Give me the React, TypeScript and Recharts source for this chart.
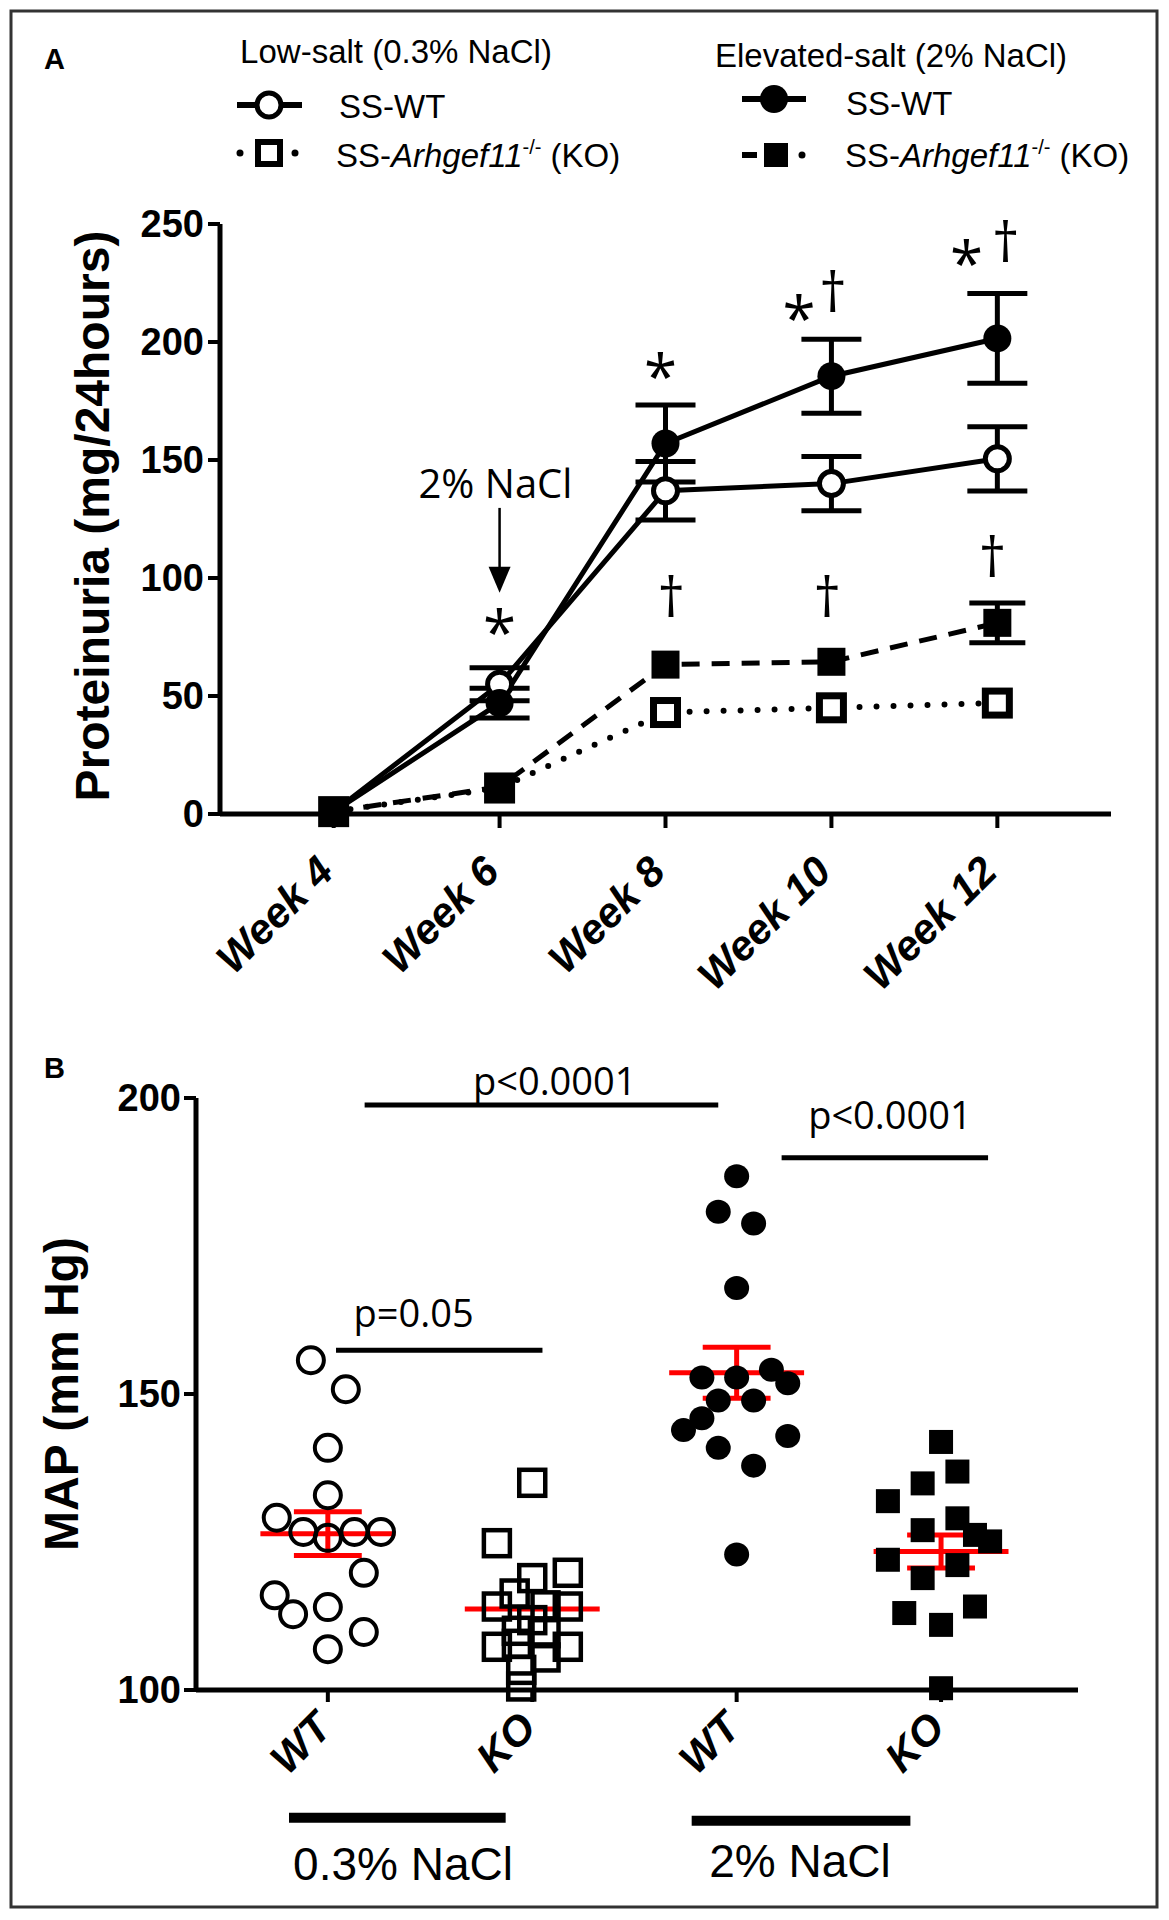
import React from 'react';
import {
  ComposedChart,
  Line,
  XAxis,
  YAxis,
  ErrorBar,
  ReferenceLine,
  ReferenceDot,
  ScatterChart,
  Scatter,
} from 'recharts';

// ---------- Panel A data ----------
const weeks = [4, 6, 8, 10, 12];
const weekLabels = ['Week 4', 'Week 6', 'Week 8', 'Week 10', 'Week 12'];
const lowWT = [1, 55, 137, 140, 150.5];
const lowWTErr = [null, 7, 12.4, 11.5, 13.6];
const highWT = [1, 47, 157, 185.5, 201.5];
const highWTErr = [null, 6.3, 16.3, 15.7, 19];
const lowKO = [1, 11, 43, 45, 47];
const highKO = [1, 11.5, 63.3, 64.5, 81];
const highKOErr = [null, null, null, null, 8.4];
const yTicksA = [0, 50, 100, 150, 200, 250];

// significance marks on panel A (week, value at glyph centre, glyph)
const marksA = [
  { x: 6, y: 83, t: '*' },
  { x: 7.94, y: 191.6, t: '*' },
  { x: 9.61, y: 216.2, t: '*' },
  { x: 10.02, y: 219.7, t: '†' },
  { x: 11.63, y: 239.4, t: '*' },
  { x: 12.1, y: 240.8, t: '†' },
  { x: 8.07, y: 90.5, t: '†' },
  { x: 9.95, y: 90.5, t: '†' },
  { x: 11.94, y: 107.2, t: '†' },
];

// ---------- Panel B data ----------
const groupLabels = ['WT', 'KO', 'WT', 'KO'];
const wtLowVals = [155.7, 150.8, 140.9, 132.9, 129.1, 126.7, 125.7, 126.7, 126.7, 119.8, 116.0, 112.8, 114.0, 109.8, 106.9];
const wtLowJit = [-0.083, 0.088, 0, 0, -0.25, -0.12, 0, 0.13, 0.26, 0.176, -0.26, -0.17, 0, 0.176, 0];
const koLowVals = [135.0, 124.8, 118.9, 119.8, 116.3, 114.1, 114.1, 114.3, 111.8, 110.0, 109.6, 107.3, 107.3, 107.8, 105.5, 103.4, 100.6];
const koLowJit = [0, -0.173, 0, 0.174, -0.086, -0.173, 0.174, 0.065, 0, -0.075, 0.065, -0.173, 0.174, -0.075, 0.065, -0.054, -0.054];
const wtHighVals = [186.8, 180.8, 178.8, 167.9, 152.8, 152.8, 154.1, 151.8, 148.9, 148.9, 145.9, 143.9, 142.9, 140.9, 137.9, 122.9];
const wtHighJit = [0, -0.09, 0.083, 0, -0.17, 0, 0.17, 0.25, -0.09, 0.083, -0.17, -0.26, 0.25, -0.09, 0.083, 0];
const koHighVals = [141.9, 136.9, 134.9, 131.9, 129.0, 127.0, 126.2, 125.1, 121.1, 122.0, 118.9, 114.1, 113.0, 111.0, 100.3];
const koHighJit = [0, 0.08, -0.09, -0.26, 0.08, -0.09, 0.166, 0.24, 0.08, -0.26, -0.09, 0.166, -0.18, 0, 0];
const meansB = [126.4, 113.7, 153.6, 123.4];
const semB = [3.7, 0, 4.3, 2.8];
const yTicksB = [100, 150, 200];

// significance bars on panel B
const sigBars = [
  { x1: 1.18, x2: 2.91, y: 198.8, lx: 2.11, ly: 202.9, label: 'p<0.0001' },
  { x1: 3.22, x2: 4.23, y: 189.9, lx: 3.75, ly: 197.0, label: 'p<0.0001' },
  { x1: 1.04, x2: 2.05, y: 157.4, lx: 1.42, ly: 163.7, label: 'p=0.05' },
];
// diet group bars under panel B
const dietBars = [
  { x1: 0.81, x2: 1.87, y: 78.4 },
  { x1: 2.78, x2: 3.85, y: 77.9 },
];

const FONT = '"Liberation Sans", Arial, Helvetica, sans-serif';
const ANN = '"Open Sans", "DejaVu Sans", sans-serif';

const dataA = weeks.map((w, i) => ({
  week: w,
  lowWT: lowWT[i],
  lowWTErr: lowWTErr[i],
  highWT: highWT[i],
  highWTErr: highWTErr[i],
  lowKO: lowKO[i],
  highKO: highKO[i],
  highKOErr: highKOErr[i],
}));

const mk = (vals: number[], jit: number[], g: number) => vals.map((v, i) => ({ x: g + jit[i], y: v }));
const ptsB = [mk(wtLowVals, wtLowJit, 1), mk(koLowVals, koLowJit, 2), mk(wtHighVals, wtHighJit, 3), mk(koHighVals, koHighJit, 4)];

function WeekTick(props: any) {
  const { x, y, payload } = props;
  const idx = weeks.indexOf(payload.value);
  return (
    <g transform={`translate(${x + 2},${y + 46})`}>
      <text textAnchor="end" transform="rotate(-45)" fontFamily={FONT} fontWeight="bold" fontStyle="italic" fontSize={42} fill="#000">
        {weekLabels[idx]}
      </text>
    </g>
  );
}

function GroupTick(props: any) {
  const { x, y, payload } = props;
  const idx = Math.round(payload.value) - 1;
  return (
    <g transform={`translate(${x + 6},${y + 28})`}>
      <text textAnchor="end" transform="rotate(-45)" fontFamily={FONT} fontWeight="bold" fontStyle="italic" fontSize={42} fill="#000">
        {groupLabels[idx]}
      </text>
    </g>
  );
}

const dotOpenCircle = (p: any) =>
  p.cx == null ? <g key={'oc' + p.index} /> : <circle key={'oc' + p.index} cx={p.cx} cy={p.cy} r={12} fill="#fff" stroke="#000" strokeWidth={5} />;
const dotFilledCircle = (p: any) =>
  p.cx == null ? <g key={'fc' + p.index} /> : <circle key={'fc' + p.index} cx={p.cx} cy={p.cy} r={14} fill="#000" />;
const dotOpenSquare = (p: any) =>
  p.cx == null ? <g key={'os' + p.index} /> : <rect key={'os' + p.index} x={p.cx - 12} y={p.cy - 12} width={24} height={24} fill="#fff" stroke="#000" strokeWidth={7} />;
const dotFilledSquare = (p: any) =>
  p.cx == null ? <g key={'fs' + p.index} /> : <rect key={'fs' + p.index} x={p.cx - 14} y={p.cy - 14} width={28} height={28} fill="#000" />;

const glyphShape = (t: string) => (p: any) => {
  const size = t === '*' ? 60 : 54;
  return (
    <text
      x={p.cx}
      y={p.cy + (t === '*' ? 0.6 : 0.3) * size}
      textAnchor="middle"
      fontFamily={ANN}
      fontSize={size}
      fill="#000"
    >
      {t}
    </text>
  );
};

const textShape = (t: string, size: number) => (p: any) => (
  <text x={p.cx} y={p.cy + 0.36 * size} textAnchor="middle" fontFamily={ANN} fontSize={size} fill="#000">
    {t}
  </text>
);

const triShape = (p: any) => (
  <path d={`M${p.cx - 11},${p.cy - 26} L${p.cx + 11},${p.cy - 26} L${p.cx},${p.cy} Z`} fill="#000" />
);

function PanelA() {
  return (
    <ComposedChart width={1169} height={1000} data={dataA} margin={{ top: 224, right: 58, bottom: 36, left: 100 }}>
      <XAxis
        type="number"
        dataKey="week"
        domain={[2.63, 13.37]}
        ticks={weeks}
        tick={<WeekTick />}
        tickSize={14}
        tickMargin={0}
        height={150}
        axisLine={{ stroke: '#000', strokeWidth: 5 }}
        tickLine={{ stroke: '#000', strokeWidth: 4 }}
        interval={0}
      />
      <YAxis
        type="number"
        domain={[0, 250]}
        ticks={yTicksA}
        width={120}
        tickSize={12}
        tickMargin={4}
        axisLine={{ stroke: '#000', strokeWidth: 5 }}
        tickLine={{ stroke: '#000', strokeWidth: 4 }}
        tick={{ fill: '#000', fontSize: 38, fontWeight: 'bold', fontFamily: FONT }}
        interval={0}
      />
      <Line
        dataKey="lowKO"
        stroke="#000"
        strokeWidth={6}
        strokeDasharray="0 17"
        strokeLinecap="round"
        dot={dotOpenSquare}
        activeDot={false}
        isAnimationActive={false}
        type="linear"
      />
      <Line
        dataKey="highKO"
        stroke="#000"
        strokeWidth={5}
        strokeDasharray="18 12"
        dot={dotFilledSquare}
        activeDot={false}
        isAnimationActive={false}
        type="linear"
      >
        <ErrorBar dataKey="highKOErr" width={28} strokeWidth={5} stroke="#000" direction="y" />
      </Line>
      <Line
        dataKey="lowWT"
        stroke="#000"
        strokeWidth={5}
        dot={dotOpenCircle}
        activeDot={false}
        isAnimationActive={false}
        type="linear"
      >
        <ErrorBar dataKey="lowWTErr" width={30} strokeWidth={5} stroke="#000" direction="y" />
      </Line>
      <Line
        dataKey="highWT"
        stroke="#000"
        strokeWidth={5}
        dot={dotFilledCircle}
        activeDot={false}
        isAnimationActive={false}
        type="linear"
      >
        <ErrorBar dataKey="highWTErr" width={30} strokeWidth={5} stroke="#000" direction="y" />
      </Line>
      <ReferenceLine segment={[{ x: 6, y: 129.7 }, { x: 6, y: 104 }]} stroke="#000" strokeWidth={2.5} ifOverflow="visible" />
      <ReferenceDot x={6} y={93.8} r={0} ifOverflow="visible" shape={triShape} />
      <ReferenceDot x={5.95} y={139.8} r={0} ifOverflow="visible" shape={textShape('2% NaCl', 40)} />
      {marksA.map((m, i) => (
        <ReferenceDot key={'mA' + i} x={m.x} y={m.y} r={0} ifOverflow="visible" shape={glyphShape(m.t)} />
      ))}
    </ComposedChart>
  );
}

const shapeOpenCircle = (p: any) => <circle cx={p.cx} cy={p.cy} r={13} fill="none" stroke="#000" strokeWidth={4} />;
const shapeOpenSquare = (p: any) => (
  <rect x={p.cx - 13} y={p.cy - 13} width={26} height={26} fill="none" stroke="#000" strokeWidth={4.5} />
);
const shapeFilledCircle = (p: any) => <ellipse cx={p.cx} cy={p.cy} rx={12.5} ry={12} fill="#000" />;
const shapeFilledSquare = (p: any) => <rect x={p.cx - 12} y={p.cy - 12} width={24} height={24} fill="#000" />;

function PanelB() {
  return (
    <ScatterChart width={1169} height={900} margin={{ top: 98, right: 91, bottom: 110, left: 96 }}>
      <XAxis
        type="number"
        dataKey="x"
        domain={[0.355, 4.67]}
        ticks={[1, 2, 3, 4]}
        tick={<GroupTick />}
        tickSize={12}
        tickMargin={0}
        height={100}
        axisLine={{ stroke: '#000', strokeWidth: 5 }}
        tickLine={{ stroke: '#000', strokeWidth: 4 }}
        interval={0}
        allowDataOverflow
      />
      <YAxis
        type="number"
        dataKey="y"
        domain={[100, 200]}
        ticks={yTicksB}
        width={100}
        tickSize={12}
        tickMargin={3}
        axisLine={{ stroke: '#000', strokeWidth: 5 }}
        tickLine={{ stroke: '#000', strokeWidth: 4 }}
        tick={{ fill: '#000', fontSize: 38, fontWeight: 'bold', fontFamily: FONT }}
        interval={0}
      />
      <Scatter data={ptsB[0]} shape={shapeOpenCircle} isAnimationActive={false} />
      <Scatter data={ptsB[1]} shape={shapeOpenSquare} isAnimationActive={false} />
      <Scatter data={ptsB[2]} shape={shapeFilledCircle} isAnimationActive={false} />
      <Scatter data={ptsB[3]} shape={shapeFilledSquare} isAnimationActive={false} />
      {meansB.map((m, i) => (
        <ReferenceLine key={'mean' + i} segment={[{ x: i + 1 - 0.33, y: m }, { x: i + 1 + 0.33, y: m }]} stroke="#ff0000" strokeWidth={5} ifOverflow="visible" />
      ))}
      {meansB.map((m, i) =>
        semB[i] > 0 ? (
          <ReferenceLine key={'semv' + i} segment={[{ x: i + 1, y: m - semB[i] }, { x: i + 1, y: m + semB[i] }]} stroke="#ff0000" strokeWidth={5} ifOverflow="visible" />
        ) : null
      )}
      {meansB.map((m, i) =>
        semB[i] > 0 ? (
          <ReferenceLine key={'semt' + i} segment={[{ x: i + 1 - 0.166, y: m + semB[i] }, { x: i + 1 + 0.166, y: m + semB[i] }]} stroke="#ff0000" strokeWidth={5} ifOverflow="visible" />
        ) : null
      )}
      {meansB.map((m, i) =>
        semB[i] > 0 ? (
          <ReferenceLine key={'semb' + i} segment={[{ x: i + 1 - 0.166, y: m - semB[i] }, { x: i + 1 + 0.166, y: m - semB[i] }]} stroke="#ff0000" strokeWidth={5} ifOverflow="visible" />
        ) : null
      )}
      {sigBars.map((s, i) => (
        <ReferenceLine key={'sig' + i} segment={[{ x: s.x1, y: s.y }, { x: s.x2, y: s.y }]} stroke="#000" strokeWidth={5} ifOverflow="visible" />
      ))}
      {sigBars.map((s, i) => (
        <ReferenceDot key={'sigl' + i} x={s.lx} y={s.ly} r={0} ifOverflow="visible" shape={textShape(s.label, 38)} />
      ))}
      {dietBars.map((d, i) => (
        <ReferenceLine key={'diet' + i} segment={[{ x: d.x1, y: d.y }, { x: d.x2, y: d.y }]} stroke="#000" strokeWidth={10} ifOverflow="visible" />
      ))}
    </ScatterChart>
  );
}

function Overlay() {
  return (
    <svg width={1169} height={1920} style={{ position: 'absolute', left: 0, top: 0, pointerEvents: 'none' }}>
      <rect x={11} y={11} width={1146} height={1896} fill="none" stroke="#333" strokeWidth={3} />
      <text x={44} y={69} fontFamily={FONT} fontWeight="bold" fontSize={29}>A</text>
      <text x={44} y={1078} fontFamily={FONT} fontWeight="bold" fontSize={29}>B</text>
      {/* legend */}
      <text x={396} y={63} textAnchor="middle" fontFamily={FONT} fontSize={33}>Low-salt (0.3% NaCl)</text>
      <text x={891} y={67} textAnchor="middle" fontFamily={FONT} fontSize={33}>Elevated-salt (2% NaCl)</text>
      <line x1={237} x2={302} y1={105} y2={105} stroke="#000" strokeWidth={6} />
      <circle cx={269} cy={105} r={12} fill="#fff" stroke="#000" strokeWidth={5} />
      <text x={339} y={118} fontFamily={FONT} fontSize={33}>SS-WT</text>
      <circle cx={240} cy={153} r={3.5} fill="#000" />
      <circle cx={295} cy={153} r={3.5} fill="#000" />
      <rect x={258} y={142} width={22} height={22} fill="#fff" stroke="#000" strokeWidth={6} />
      <text x={336} y={167} fontFamily={FONT} fontSize={33}>
        SS-<tspan fontStyle="italic">Arhgef11</tspan>
        <tspan fontSize={20} dy={-13}>-/-</tspan>
        <tspan dy={13}> (KO)</tspan>
      </text>
      <line x1={742} x2={806} y1={99} y2={99} stroke="#000" strokeWidth={6} />
      <circle cx={774} cy={99} r={14} fill="#000" />
      <text x={846} y={115} fontFamily={FONT} fontSize={33}>SS-WT</text>
      <line x1={742} x2={757} y1={155} y2={155} stroke="#000" strokeWidth={6} />
      <rect x={764} y={143} width={24} height={24} fill="#000" />
      <circle cx={802} cy={155} r={3.5} fill="#000" />
      <text x={845} y={167} fontFamily={FONT} fontSize={33}>
        SS-<tspan fontStyle="italic">Arhgef11</tspan>
        <tspan fontSize={20} dy={-13}>-/-</tspan>
        <tspan dy={13}> (KO)</tspan>
      </text>
      {/* axis titles */}
      <text x={109} y={516} transform="rotate(-90 109 516)" textAnchor="middle" fontFamily={FONT} fontWeight="bold" fontSize={48}>
        Proteinuria (mg/24hours)
      </text>
      <text x={78} y={1394} transform="rotate(-90 78 1394)" textAnchor="middle" fontFamily={FONT} fontWeight="bold" fontSize={48}>
        MAP (mm Hg)
      </text>
      <text x={403} y={1880} textAnchor="middle" fontFamily={FONT} fontSize={46}>0.3% NaCl</text>
      <text x={800} y={1877} textAnchor="middle" fontFamily={FONT} fontSize={46}>2% NaCl</text>
    </svg>
  );
}

export default function App() {
  return (
    <div style={{ position: 'absolute', left: 0, top: 0, width: 1169, height: 1920, background: '#fff' }}>
      <div style={{ position: 'absolute', left: 0, top: 0 }}>
        <PanelA />
      </div>
      <div style={{ position: 'absolute', left: 0, top: 1000 }}>
        <PanelB />
      </div>
      <Overlay />
    </div>
  );
}
